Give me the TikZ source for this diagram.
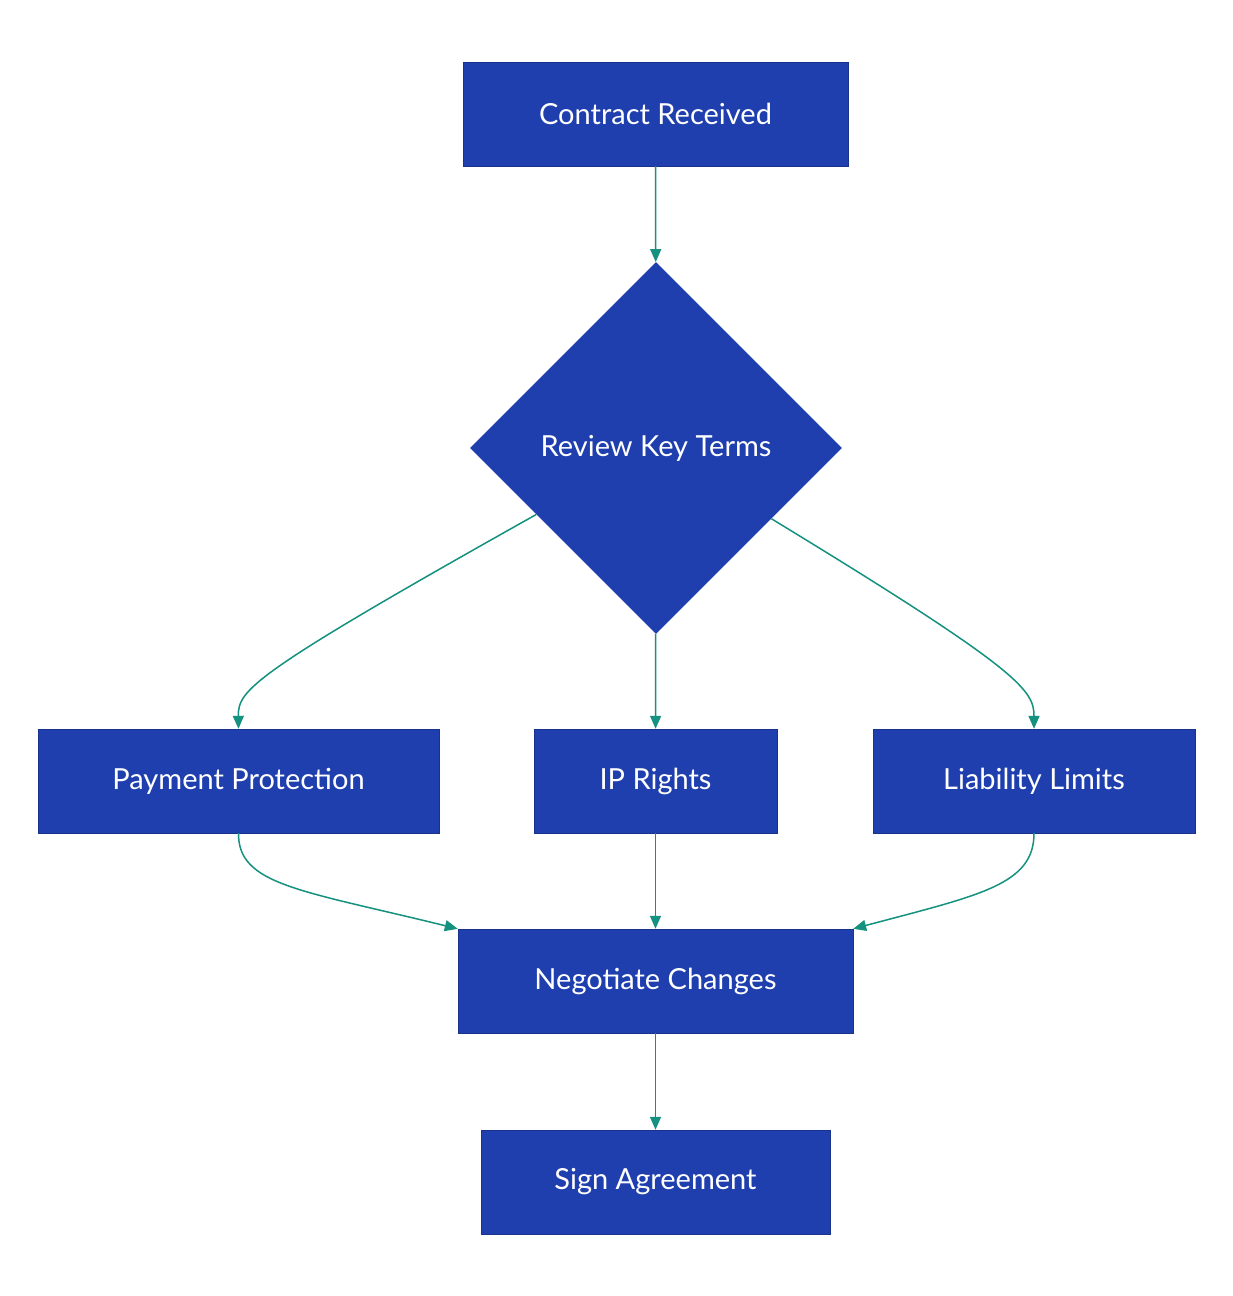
\documentclass[tikz,border=0pt]{standalone}
\usepackage{fontspec}
\setmainfont{Lato}
\usetikzlibrary{shapes.geometric,arrows.meta,calc}
\definecolor{boxblue}{HTML}{1F3FAE}
\definecolor{teal2}{HTML}{14917F}
\begin{document}
\begin{tikzpicture}[x=1pt,y=-1pt,
  box/.style={draw=boxblue!80!black,fill=boxblue,text=white,minimum height=104pt,inner sep=0pt,font=\fontsize{29}{34}\selectfont},
  arr/.style={draw=teal2,line width=1.5pt,-{Triangle[length=13pt,width=11pt]}}]
\path[use as bounding box] (0,0) rectangle (1232,1296);
\node[box,minimum width=385pt] (a) at (655.5,114) {Contract Received};
\node[diamond,fill=boxblue,text=white,minimum width=372pt,minimum height=372pt,inner sep=0pt,font=\fontsize{29}{34}\selectfont] (d) at (656,448) {Review Key Terms};
\node[box,minimum width=401pt] (p) at (238.5,781) {Payment Protection};
\node[box,minimum width=243pt] (ip) at (655.5,781) {IP Rights};
\node[box,minimum width=322pt] (l) at (1034,781) {Liability Limits};
\node[box,minimum width=395pt] (n) at (655.5,981) {Negotiate Changes};
\node[box,minimum width=349pt] (s) at (655.5,1182) {Sign Agreement};
\coordinate (dl) at ($(d.west)!0.357!(d.south)$);
\coordinate (dr) at ($(d.east)!0.38!(d.south)$);
\draw[arr] (a) -- (d);
\draw[arr] (dl) .. controls (250,675) and (238,690) .. (p.north);
\draw[arr] (d) -- (ip);
\draw[arr] (dr) .. controls (1020,670) and (1034,690) .. (l.north);
\draw[arr] (p.south) .. controls (238,885) and (300,890) .. (n.north west);
\draw[arr] (ip) -- (n);
\draw[arr] (l.south) .. controls (1034,885) and (980,895) .. (n.north east);
\draw[arr] (n) -- (s);
\end{tikzpicture}
\end{document}
